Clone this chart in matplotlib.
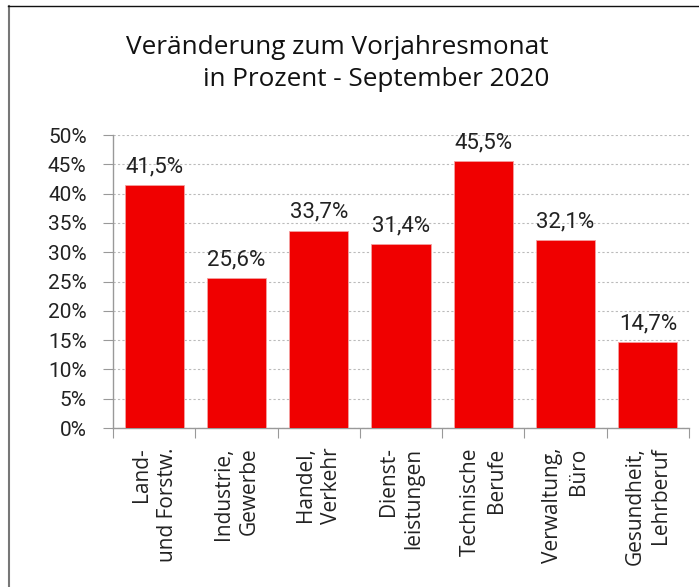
import matplotlib
matplotlib.use('Agg')
import matplotlib.pyplot as plt
from matplotlib.lines import Line2D
import numpy as np

# ── Data ──
categories = ['Land-\nund Forstw.', 'Industrie,\nGewerbe', 'Handel,\nVerkehr',
              'Dienst-\nleistungen', 'Technische\nBerufe', 'Verwaltung,\nBüro',
              'Gesundheit,\nLehrberuf']
values = [41.5, 25.6, 33.7, 31.4, 45.5, 32.1, 14.7]
yticks = [0, 5, 10, 15, 20, 25, 30, 35, 40, 45, 50]

plt.rcParams['font.family'] = ['Open Sans', 'DejaVu Sans']

W, H = 699, 587
fig = plt.figure(figsize=(W / 100, H / 100), dpi=100)
ax = fig.add_axes([113 / W, 1 - 428 / H, (689 - 113) / W, (428 - 135) / H])

x = np.arange(len(categories))
bars = ax.bar(x, values, 0.72, color='#F00000', edgecolor='#F4A0A0', linewidth=0.6, zorder=3)
for bar, val in zip(bars, values):
    ax.text(bar.get_x() + bar.get_width() / 2, bar.get_height() + 1.3,
            f'{val:.1f}%'.replace('.', ','), ha='center', va='bottom',
            fontsize=16, family='Roboto', color='#222222')

ax.set_xlim(-0.5, len(categories) - 0.5)
ax.set_ylim(0, 50)
ax.set_yticks(yticks)
ax.set_yticklabels([f'{t}%' for t in yticks], fontsize=15, family='Roboto', color='#222222')
ax.yaxis.grid(True, linestyle=(0, (2, 2)), color='#BBBBBB', linewidth=0.8, zorder=0)

ax.set_xticks(np.arange(len(categories) + 1) - 0.5)
ax.set_xticklabels([])
ax.set_xticks(x, minor=True)
ax.set_xticklabels(categories, minor=True, rotation=90, fontsize=15,
                   ha='center', va='top', multialignment='right', color='#222222',
                   linespacing=1.3)
ax.tick_params(axis='x', which='minor', length=0, pad=14)
ax.tick_params(axis='x', which='major', length=7, color='#999999', direction='out')
ax.tick_params(axis='y', length=7, color='#999999', pad=12)

for s in ['top', 'right']:
    ax.spines[s].set_visible(False)
for s in ['left', 'bottom']:
    ax.spines[s].set_color('#999999')
    ax.spines[s].set_linewidth(1)

# title
fig.text(549 / W, 1 - 47 / H, 'Veränderung zum Vorjahresmonat', ha='right', va='center',
         fontsize=18.8, color='#111111')
fig.text(549 / W, 1 - 80 / H, 'in Prozent - September 2020', ha='right', va='center',
         fontsize=18.8, color='#111111')

# frame lines (left, top)
fig.add_artist(Line2D([8.5 / W, 8.5 / W], [0, 1 - 6 / H], color='#777777', linewidth=1.5,
                      transform=fig.transFigure))
fig.add_artist(Line2D([8 / W, 1], [1 - 6 / H, 1 - 6 / H], color='#111111', linewidth=1,
                      transform=fig.transFigure))

fig.savefig('out.png', dpi=100)
